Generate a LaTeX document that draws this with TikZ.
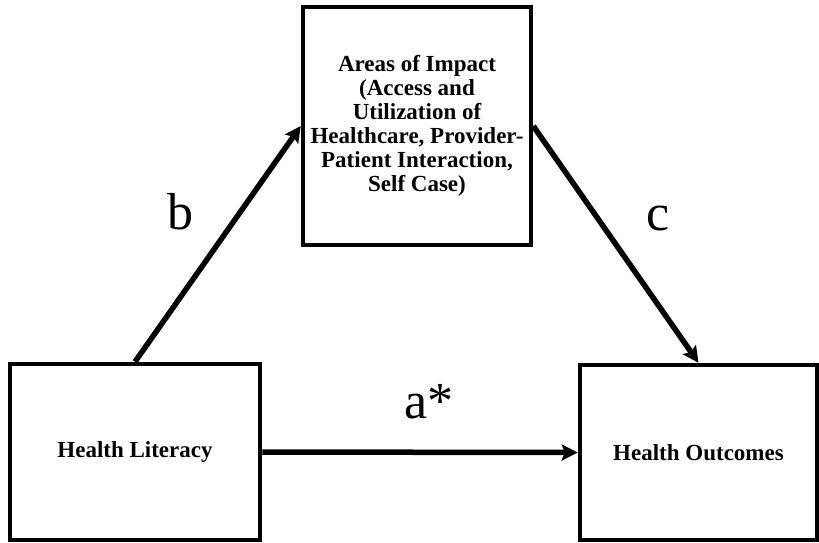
\documentclass[tikz,border=0pt]{standalone}
\usepackage{fontspec}
\setmainfont{Liberation Serif}
\usetikzlibrary{arrows.meta}

\tikzstyle{box}=[draw,black,line width=4.5pt,rectangle,align=center,inner sep=0pt,
  font=\fontsize{23}{24}\selectfont\bfseries]
\tikzstyle{edge}=[line width=5.5pt,-{Stealth[length=16pt,width=16pt,inset=3pt]}]
\tikzstyle{lbl}=[anchor=base,inner sep=0pt,font=\fontsize{52}{56}\selectfont]

\begin{document}
\begin{tikzpicture}[x=1pt,y=-1pt]
    \useasboundingbox (0,0) rectangle (819,542);
    \node (impact)[box,minimum width=228pt,minimum height=238pt] at (417,126)
      {Areas of Impact\\(Access and\\Utilization of\\Healthcare, Provider-\\Patient Interaction,\\Self Case)};
    \node (lit)[box,minimum width=250pt,minimum height=176pt] at (135,452) {Health Literacy};
    \node (outc)[box,minimum width=237pt,minimum height=175pt] at (698.5,452.5) {Health Outcomes};
    \node (b)[lbl] at (180,229) {b};
    \node (c)[lbl] at (658,230) {c};
    \node (astar)[lbl] at (429,418) {a*};
    \path[edge] (lit.north)  edge (impact.west);
    \path[edge] (impact.east) edge (outc.north);
    \path[edge] (lit.east)   edge (outc.west);
\end{tikzpicture}
\end{document}
